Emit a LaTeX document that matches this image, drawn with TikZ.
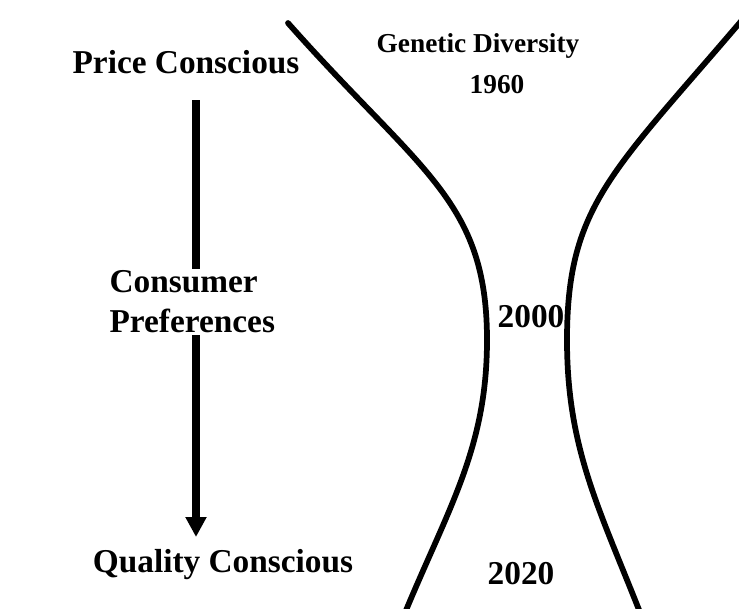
\documentclass[tikz,border=0pt]{standalone}
\usepackage{fontspec}
\setmainfont{Liberation Serif}
\usetikzlibrary{arrows.meta, positioning}

\begin{document}
\begin{tikzpicture}[x=0.75pt, y=-0.75pt,
    label text/.style={font=\fontsize{25}{30}\selectfont\bfseries, inner sep=0pt, anchor=base},
    small label/.style={label text, font=\fontsize{20.5}{25}\selectfont\bfseries},
    funnel line/.style={line width=4.3pt, line cap=round}]
    \useasboundingbox (0,0) rectangle (739,608);

    % preference arrow
    \coordinate (arrowtop) at (196,100);
    \coordinate (arrowtip) at (196,537);
    \draw[line width=5.5pt, -{Triangle[width=15pt, length=15pt]}] (arrowtop) -- (arrowtip);

    % labels
    \node[label text] (price) at (186,73) {Price Conscious};
    \node[label text] (quality) at (223,572) {Quality Conscious};
    \node[label text, align=left, anchor=west, fill=white, inner sep=1pt] (prefs) at (108,302) {Consumer\\Preferences};
    \node[small label] (genetic) at (478,52) {Genetic Diversity};
    \node[small label] (yearA) at (497,93) {1960};
    \node[label text] (yearB) at (531,327) {2000};
    \node[label text] (yearC) at (521,584) {2020};

    % hourglass of genetic diversity
    \coordinate (lefttop) at (288,23);
    \coordinate (leftwaist) at (487,340);
    \coordinate (leftbottom) at (402,620);
    \draw[funnel line] (lefttop) .. controls (420,172) and (487,200) .. (leftwaist)
        .. controls (487,450) and (447,510) .. (leftbottom);
    \coordinate (righttop) at (759,0);
    \coordinate (rightwaist) at (567,340);
    \coordinate (rightbottom) at (643,620);
    \draw[funnel line] (righttop) .. controls (616,170) and (567,200) .. (rightwaist)
        .. controls (567,450) and (600,510) .. (rightbottom);
\end{tikzpicture}
\end{document}
